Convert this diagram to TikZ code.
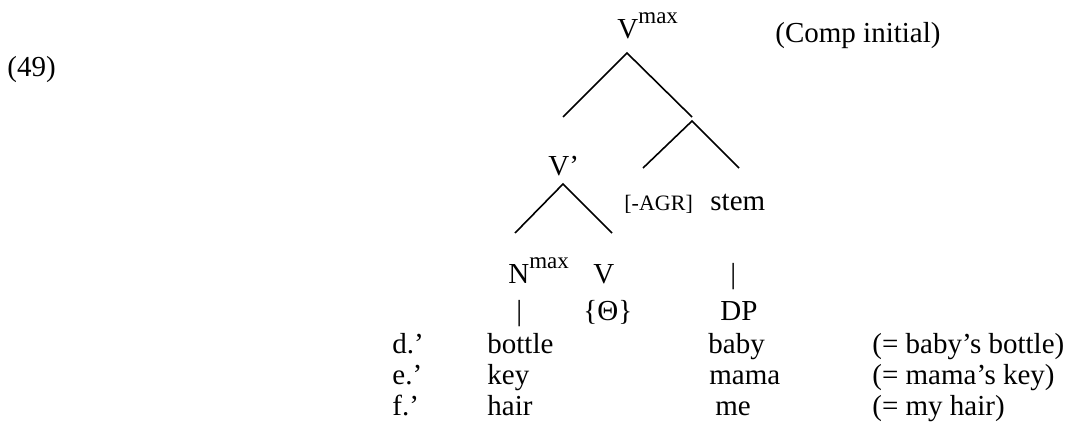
\documentclass[tikz,border=0pt]{standalone}
\usepackage{fontspec}
\setmainfont{Liberation Serif}
\usetikzlibrary{positioning}
\newcommand\catsup[1]{\raisebox{0.5em}{\fontsize{11.5}{12}\selectfont #1}}
\tikzset{
  % --- nodes
  txt/.style  = {anchor=base west, inner sep=0pt, font=\fontsize{14.5}{17}\selectfont},
  cat/.style  = {txt},
  feat/.style = {txt, font=\fontsize{11}{13}\selectfont},
  % --- edges
  e/.style    = {draw=black, line width=0.8pt},
}
\begin{document}
\begin{tikzpicture}[x=0.5pt,y=-0.5pt]
  \useasboundingbox (0,0) rectangle (1068,429);
  \node[txt] (ex) at (7,76) {(49)};
  \node[txt] (note) at (775,42) {(Comp initial)};

  % tree labels
  \node[cat] (vmax) at (617,38) {V\catsup{max}};
  \node[cat] (vbar) at (548,175) {V’};
  \node[feat] (agr) at (624,210) {[-AGR]};
  \node[cat] (stem) at (710,210) {stem};
  \node[cat] (nmax) at (508,283) {N\catsup{max}};
  \node[cat] (v) at (593,283) {V};
  \node[txt] (barstem) at (730,283) {|};
  \node[txt] (barn) at (516,320) {|};
  \node[txt] (theta) at (583,320) {\{Θ\}};
  \node[cat] (dp) at (720,320) {DP};

  % examples
  \node[txt] (d) at (392,353) {d.’};
  \node[txt] (dn) at (487,353) {bottle};
  \node[txt] (dp1) at (708,353) {baby};
  \node[txt] (dg) at (872,353) {(= baby’s bottle)};
  \node[txt] (e) at (392,384) {e.’};
  \node[txt] (en) at (487,384) {key};
  \node[txt] (dp2) at (709,384) {mama};
  \node[txt] (eg) at (872,384) {(= mama’s key)};
  \node[txt] (f) at (392,415) {f.’};
  \node[txt] (fn) at (487,415) {hair};
  \node[txt] (dp3) at (715,415) {me};
  \node[txt] (fg) at (872,415) {(= my hair)};

  % branches
  \coordinate (top) at (627,53);
  \coordinate (topl) at (563,117);
  \coordinate (topr) at (692,117);
  \coordinate (agrtop) at (692,121);
  \coordinate (agrl) at (643,168);
  \coordinate (agrr) at (739,168);
  \coordinate (vtop) at (563,184);
  \coordinate (vl) at (515,233);
  \coordinate (vr) at (612,233);
  \draw[e] (topl) -- (top) -- (topr);
  \draw[e] (agrl) -- (agrtop) -- (agrr);
  \draw[e] (vl) -- (vtop) -- (vr);
\end{tikzpicture}
\end{document}
